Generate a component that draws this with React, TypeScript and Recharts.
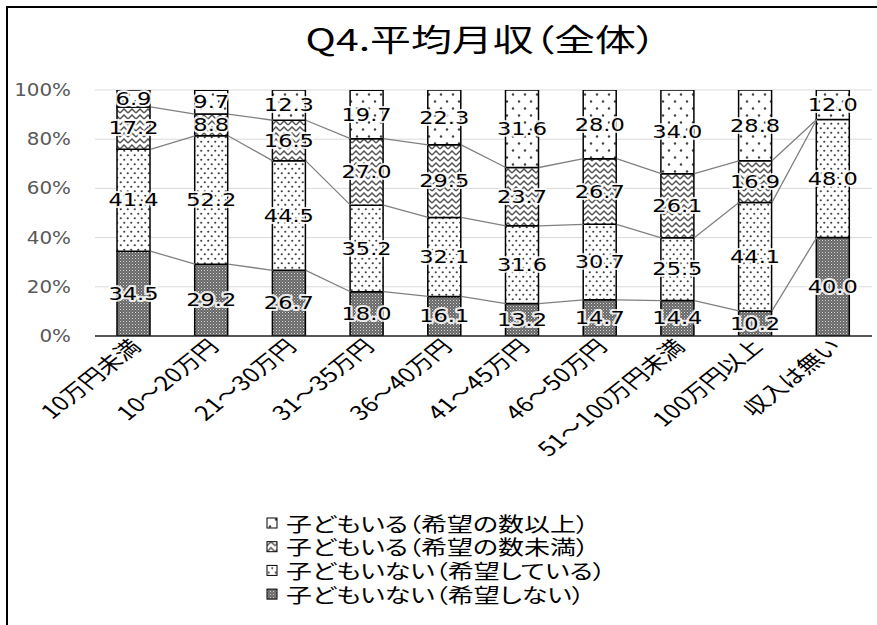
import React from 'react';
import { ComposedChart, Bar, Line, XAxis, YAxis, CartesianGrid, LabelList } from 'recharts';

const categories = ['10万円未満', '10～20万円', '21～30万円', '31～35万円', '36～40万円', '41～45万円', '46～50万円', '51～100万円未満', '100万円以上', '収入は無い'];
const noChildNoWish = [34.5, 29.2, 26.7, 18.0, 16.1, 13.2, 14.7, 14.4, 10.2, 40.0];
const noChildWish = [41.4, 52.2, 44.5, 35.2, 32.1, 31.6, 30.7, 25.5, 44.1, 48.0];
const childLess = [17.2, 8.8, 16.5, 27.0, 29.5, 23.7, 26.7, 26.1, 16.9, 0.0];
const childMore = [6.9, 9.7, 12.3, 19.7, 22.3, 31.6, 28.0, 34.0, 28.8, 12.0];
const yTicks = [0, 20, 40, 60, 80, 100];
const title = 'Q4.平均月収（全体）';

const seriesNames = {
  more: '子どもいる（希望の数以上）',
  less: '子どもいる（希望の数未満）',
  wish: '子どもいない（希望している）',
  nowish: '子どもいない（希望しない）',
};

const data = categories.map((c, i) => ({
  name: c,
  nowish: noChildNoWish[i],
  wish: noChildWish[i],
  less: childLess[i],
  more: childMore[i],
  cum1: noChildNoWish[i],
  cum2: noChildNoWish[i] + noChildWish[i],
  cum3: noChildNoWish[i] + noChildWish[i] + childLess[i],
}));

const BAR = 33;
const HALF = BAR / 2;
const SX = 1.25;
const FONT = "'DejaVu Sans', 'Noto Sans CJK JP', sans-serif";
const JFONT = "'Noto Sans CJK JP', sans-serif";

// series line curve: connects right edge of one bar to left edge of the next
const seriesCurve = (context: any) => {
  let prev: [number, number] | null = null;
  return {
    areaStart() {},
    areaEnd() {},
    lineStart() { prev = null; },
    lineEnd() {},
    point(x: number, y: number) {
      if (prev) {
        context.moveTo(prev[0] + HALF, prev[1]);
        context.lineTo(x - HALF, y);
      }
      prev = [x, y];
    },
  };
};

const DataLabel = (props: any) => {
  const { x, y, width, height, value } = props;
  const cx = Number(x) + Number(width) / 2;
  const cy = Number(y) + Number(height) / 2;
  return (
    <g transform={`translate(${cx},${cy}) scale(${SX},1)`}>
      <text
        x={0}
        y={0}
        textAnchor="middle"
        dominantBaseline="central"
        fontFamily={FONT}
        fontSize={18}
        fill="#000"
        stroke="#fff"
        strokeWidth={4}
        strokeOpacity={0.85}
        strokeLinejoin="round"
        style={{ paintOrder: 'stroke' }}
      >
        {Number(value).toFixed(1)}
      </text>
    </g>
  );
};

const YTick = (props: any) => {
  const { x, y, payload } = props;
  return (
    <g transform={`translate(${x - 16},${y}) scale(1.17,1)`}>
      <text x={0} y={0} textAnchor="end" dominantBaseline="central" fontFamily={FONT} fontSize={17} fill="#595959">
        {`${payload.value}%`}
      </text>
    </g>
  );
};

const XTick = (props: any) => {
  const { x, y, payload } = props;
  return (
    <g transform={`translate(${x + 1},${y - 2}) scale(${SX},1) rotate(-45)`}>
      <text x={0} y={0} textAnchor="end" dominantBaseline="central" fontFamily={JFONT} fontSize={20} fill="#000" style={{ fontFeatureSettings: '"palt"' }}>
        {payload.value}
      </text>
    </g>
  );
};

const legendItems = [
  { key: 'more', fill: 'url(#patMore)' },
  { key: 'less', fill: 'url(#patLess)' },
  { key: 'wish', fill: 'url(#patWish)' },
  { key: 'nowish', fill: 'url(#patNoWish)' },
];

export default function App() {
  return (
    <div style={{ position: 'absolute', left: 0, top: 0, width: 877, height: 625, background: '#fff', overflow: 'hidden' }}>
      <div style={{ position: 'absolute', left: 6, top: 6, width: 950, height: 700, border: '2px solid #000', boxSizing: 'border-box' }} />
      <div style={{ position: 'absolute', left: 0, top: 0 }}>
        <ComposedChart width={877} height={625} data={data} margin={{ top: 90, right: 5, left: 0, bottom: 189 }}>
          <CartesianGrid vertical={false} stroke="#d9d9d9" strokeWidth={1} />
          <XAxis dataKey="name" interval={0} height={100} tickLine={false} axisLine={{ stroke: '#262626', strokeWidth: 1.5 }} tick={<XTick />} />
          <YAxis width={95} domain={[0, 100]} ticks={yTicks} allowDataOverflow tickLine={false} axisLine={false} tick={<YTick />} />
          <Line dataKey="cum1" type={seriesCurve as any} stroke="#808080" strokeWidth={1.3} dot={false} activeDot={false} isAnimationActive={false} legendType="none" />
          <Line dataKey="cum2" type={seriesCurve as any} stroke="#808080" strokeWidth={1.3} dot={false} activeDot={false} isAnimationActive={false} legendType="none" />
          <Line dataKey="cum3" type={seriesCurve as any} stroke="#808080" strokeWidth={1.3} dot={false} activeDot={false} isAnimationActive={false} legendType="none" />
          <Bar dataKey="nowish" name={seriesNames.nowish} stackId="a" barSize={BAR} fill="url(#patNoWish)" stroke="#000" strokeWidth={1.5} isAnimationActive={false}>
            <LabelList dataKey="nowish" content={<DataLabel />} />
          </Bar>
          <Bar dataKey="wish" name={seriesNames.wish} stackId="a" barSize={BAR} fill="url(#patWish)" stroke="#000" strokeWidth={1.5} isAnimationActive={false}>
            <LabelList dataKey="wish" content={<DataLabel />} />
          </Bar>
          <Bar dataKey="less" name={seriesNames.less} stackId="a" barSize={BAR} fill="url(#patLess)" stroke="#000" strokeWidth={1.5} isAnimationActive={false}>
            <LabelList dataKey="less" content={<DataLabel />} />
          </Bar>
          <Bar dataKey="more" name={seriesNames.more} stackId="a" barSize={BAR} fill="url(#patMore)" stroke="#000" strokeWidth={1.5} isAnimationActive={false}>
            <LabelList dataKey="more" content={<DataLabel />} />
          </Bar>
        </ComposedChart>
      </div>
      <svg width={877} height={625} style={{ position: 'absolute', left: 0, top: 0, pointerEvents: 'none' }}>
        <defs>
          <pattern id="patNoWish" patternUnits="userSpaceOnUse" width={3} height={3}>
            <rect width={3} height={3} fill="#686868" />
            <rect x={0} y={0} width={1} height={1} fill="#d8d8d8" />
            <rect x={1.5} y={1.5} width={1} height={1} fill="#a8a8a8" />
          </pattern>
          <pattern id="patWish" patternUnits="userSpaceOnUse" width={7} height={9}>
            <rect width={7} height={9} fill="#fff" />
            <circle cx={1.75} cy={2.25} r={1.1} fill="#404040" />
            <circle cx={5.25} cy={6.75} r={1.1} fill="#404040" />
          </pattern>
          <pattern id="patLess" patternUnits="userSpaceOnUse" width={8} height={6}>
            <rect width={8} height={6} fill="#fff" />
            <path d="M0,5 L4,1 L8,5" stroke="#555" strokeWidth={1.5} fill="none" />
          </pattern>
          <pattern id="patMore" patternUnits="userSpaceOnUse" width={12} height={14}>
            <rect width={12} height={14} fill="#fff" />
            <circle cx={3} cy={3.5} r={1.2} fill="#404040" />
            <circle cx={9} cy={10.5} r={1.2} fill="#404040" />
          </pattern>
        </defs>
        <g transform={`translate(481,37) scale(1.32,1)`}>
          <text x={0} y={0} textAnchor="middle" dominantBaseline="central" fontFamily={JFONT} fontSize={31} fill="#000" style={{ fontFeatureSettings: '"palt"' }}>
            {title}
          </text>
        </g>
        {legendItems.map((it, i) => (
          <g key={it.key} transform={`translate(267,${523 + i * 23.7})`}>
            <rect x={0} y={-5} width={10} height={10} fill={it.fill} stroke="#000" strokeWidth={1} />
            <g transform={`translate(19,0) scale(1.3,1)`}>
              <text x={0} y={0} dominantBaseline="central" fontFamily={JFONT} fontSize={20} fill="#000" style={{ fontFeatureSettings: '"palt"' }}>
                {(seriesNames as any)[it.key]}
              </text>
            </g>
          </g>
        ))}
      </svg>
    </div>
  );
}
